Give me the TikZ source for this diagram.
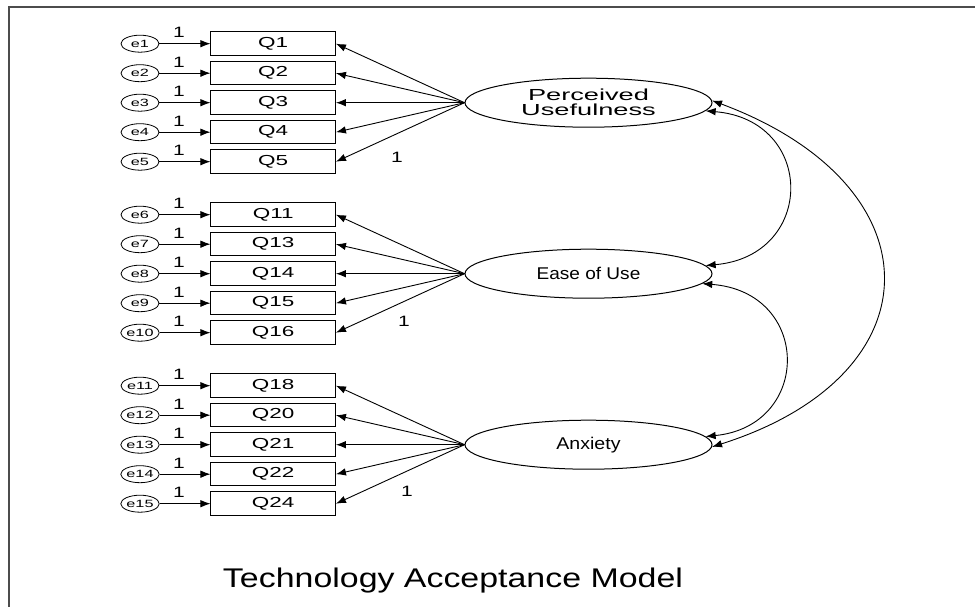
\documentclass[tikz,border=0pt]{standalone}
\usepackage{graphicx}
\usepackage{fontspec}
\setmainfont{Liberation Sans}
\usetikzlibrary{shapes.geometric,arrows.meta}
\newcommand{\sx}[2]{\scalebox{#1}[1]{#2}}
\begin{document}
\begin{tikzpicture}[x=1pt,y=-1pt,
  obs/.style={draw, line width=1pt, minimum width=124.5pt, minimum height=23.5pt, inner sep=0pt, font=\fontsize{14.5}{14}\selectfont},
  err/.style={draw, ellipse, line width=0.8pt, minimum width=38pt, minimum height=17pt, inner sep=0pt, font=\fontsize{10.5}{10}\selectfont},
  lat/.style={draw, ellipse, line width=1pt, minimum width=247pt, minimum height=49pt, inner sep=0pt, align=center, font=\fontsize{16}{15}\selectfont},
  one/.style={inner sep=0pt, font=\fontsize{15}{15}\selectfont},
  arr/.style={-{Latex[length=10pt,width=7.5pt]}, line width=0.9pt},
  cov/.style={{Latex[length=10pt,width=7.5pt]}-{Latex[length=10pt,width=7.5pt]}, line width=0.9pt},
]
\useasboundingbox (0,0) rectangle (975,607);
\draw[line width=1.5pt, color=black!70] (9,607) -- (9,7) -- (975,7);

\node[lat] (pu) at (588.5,102.7) {\sx{1.7}{Perceived}\\\sx{1.7}{Usefulness}};
\node[lat, font=\fontsize{17}{17}\selectfont] (eou) at (588.5,273.7) {\sx{1.12}{Ease of Use}};
\node[lat, font=\fontsize{17}{17}\selectfont] (anx) at (588.5,444.7) {\sx{1.15}{Anxiety}};

\foreach \i/\t/\y/\l in {1/Q1/43.7/pu, 2/Q2/73.2/pu, 3/Q3/102.7/pu, 4/Q4/132.2/pu, 5/Q5/161.7/pu,
  6/Q11/214.7/eou, 7/Q13/244.2/eou, 8/Q14/273.7/eou, 9/Q15/303.2/eou, 10/Q16/332.7/eou,
  11/Q18/385.7/anx, 12/Q20/415.2/anx, 13/Q21/444.7/anx, 14/Q22/474.2/anx, 15/Q24/503.7/anx}{
  \node[obs] (q\i) at (273.2,\y) {\sx{1.55}{\t}};
  \node[err] (e\i) at (140,\y) {\sx{1.55}{e\i}};
  \node[one] (one\i) at (179,\y-11) {\sx{1.4}{1}};
  \draw[arr] (e\i) -- (q\i);
  \draw[arr] (\l.west) -- (q\i.east);
}

\node[one] (lpu) at (397,157) {\sx{1.4}{1}};
\node[one] (leou) at (404,321) {\sx{1.4}{1}};
\node[one] (lanx) at (407,491) {\sx{1.4}{1}};

\draw[cov] (pu.-4) .. controls (816,120) and (816,256) .. (eou.4);
\draw[cov] (eou.-5) .. controls (812,292) and (812,426) .. (anx.4);
\draw[cov] (pu.1) .. controls (939,185) and (939,375) .. (anx.-1);

\node[anchor=base, inner sep=0pt, font=\fontsize{27}{27}\selectfont] (title) at (453,587) {\resizebox{460pt}{\height}{Technology Acceptance Model}};
\end{tikzpicture}
\end{document}
